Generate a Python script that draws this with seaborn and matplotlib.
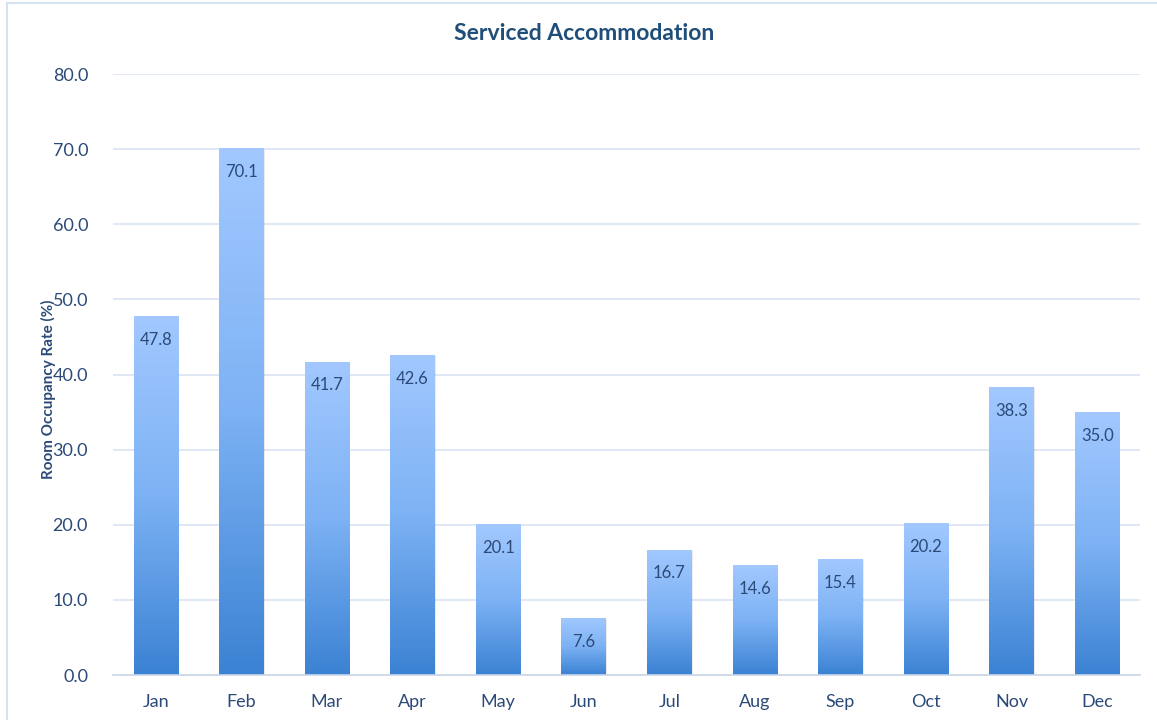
import numpy as np
import pandas as pd
import matplotlib
matplotlib.use("Agg")
import matplotlib.pyplot as plt
from matplotlib.patches import Rectangle
from matplotlib.colors import LinearSegmentedColormap
import seaborn as sns

months = ["Jan", "Feb", "Mar", "Apr", "May", "Jun", "Jul", "Aug", "Sep", "Oct", "Nov", "Dec"]
occupancy = [47.8, 70.1, 41.7, 42.6, 20.1, 7.6, 16.7, 14.6, 15.4, 20.2, 38.3, 35.0]

df = pd.DataFrame({"month": months, "rate": occupancy})

sns.set_theme(style="white")
plt.rcParams["font.family"] = ["Lato", "DejaVu Sans"]

text_col = "#2B4A78"
grid_col = "#D9E4F2"

fig = plt.figure(figsize=(11.57, 7.2), dpi=100)
ax = fig.add_axes([0.0977, 0.0625, 0.8876, 0.8347])

sns.barplot(data=df, x="month", y="rate", ax=ax, width=0.52, color="#7FB0EE", zorder=2)

ax.set_ylim(0, 80)
ax.set_xlim(-0.5, len(months) - 0.5)
ax.set_yticks(np.arange(0, 81, 10))
ax.set_yticklabels([f"{v:.1f}" for v in np.arange(0, 81, 10)])
ax.yaxis.grid(True, color=grid_col, linewidth=1.2, zorder=0)
ax.set_axisbelow(True)

for side in ["top", "right", "left"]:
    ax.spines[side].set_visible(False)
ax.spines["bottom"].set_color("#C9D6E6")
ax.spines["bottom"].set_linewidth(1.2)

ax.tick_params(axis="both", length=0, labelsize=13, colors=text_col, pad=14)
ax.tick_params(axis="y", pad=18)
ax.set_xlabel("")
ax.set_ylabel("Room Occupancy Rate (%)", fontsize=11, fontweight="bold", color=text_col)
ax.yaxis.set_label_coords(-0.056, 0.476)
fig.text(0.505, 0.954, "Serviced Accommodation", fontsize=16.5, fontweight="bold",
         color="#1F4E79", ha="center", va="center")

# gradient fill per bar, light at top, dark at bottom
cmap = LinearSegmentedColormap.from_list("grad", ["#3B82D3", "#7DB2F4", "#A2C8FF"])
grad = np.linspace(0, 1, 256).reshape(-1, 1)
for bar, val in zip(ax.patches, occupancy):
    x0 = bar.get_x()
    w = bar.get_width()
    h = bar.get_height()
    # soft shadow
    ax.add_patch(Rectangle((x0 + 0.012, 0), w, h - 0.15, facecolor="#000000", alpha=0.08,
                           edgecolor="none", zorder=1.5))
    im = ax.imshow(grad, extent=[x0, x0 + w, 0, h], origin="lower", cmap=cmap,
                   aspect="auto", zorder=2.5)
    im.set_clip_path(bar)
    bar.set_facecolor("none")
    bar.set_edgecolor("none")
    ax.annotate(f"{val:.1f}", xy=(x0 + w / 2, h), xytext=(0, -17), textcoords="offset points",
                ha="center", va="center", fontsize=12, color=text_col, zorder=3)

ax.set_xlim(-0.5, len(months) - 0.5)
ax.set_ylim(0, 80)

fig.patches.append(Rectangle((0.006, -0.01), 1.0, 1.006, transform=fig.transFigure,
                             fill=False, edgecolor="#D5E2F2", linewidth=1.5))

fig.savefig("out.png", dpi=100, facecolor="white")
